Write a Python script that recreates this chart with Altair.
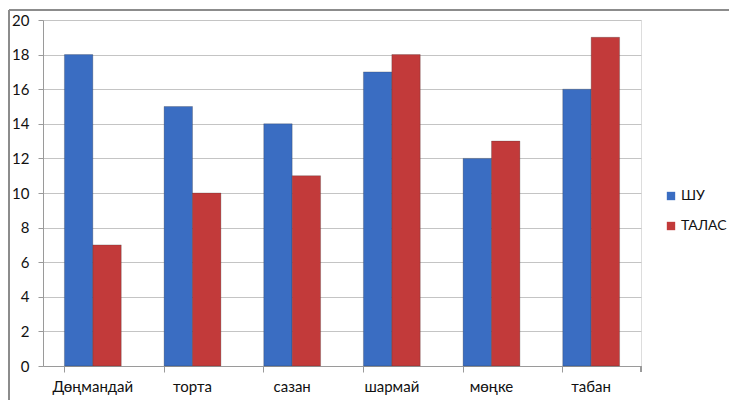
import altair as alt
import pandas as pd

categories = ["Дөңмандай", "торта", "сазан", "шармай", "мөңке", "табан"]
series_names = ["ШУ", "ТАЛАС"]
shu_values = [18, 15, 14, 17, 12, 16]
talas_values = [7, 10, 11, 18, 13, 19]
colors = ["#3A6DC2", "#C23A3A"]

rows = []
for c, a, b in zip(categories, shu_values, talas_values):
    rows.append({"cat": c, "series": series_names[0], "value": a})
    rows.append({"cat": c, "series": series_names[1], "value": b})
df = pd.DataFrame(rows)

FONT = "Lato"

bars = alt.Chart(df).mark_bar(stroke="#2a2a2a", strokeWidth=0.5, strokeOpacity=0.5).encode(
    x=alt.X("cat:N", sort=categories, title=None,
            scale=alt.Scale(paddingInner=0.43, paddingOuter=0.215),
            axis=alt.Axis(labelAngle=0, bandPosition=0, tickSize=6, tickColor="#9a9a9a",
                          domainColor="#9a9a9a", labelPadding=7, labelFontSize=15,
                          labelColor="#111", labelFont=FONT, grid=False)),
    xOffset=alt.XOffset("series:N", sort=series_names),
    y=alt.Y("value:Q", title=None,
            scale=alt.Scale(domain=[0, 20]),
            axis=alt.Axis(values=list(range(0, 21, 2)), tickSize=5, tickColor="#9a9a9a",
                          domainColor="#9a9a9a", gridColor="#c4c4c4", labelPadding=9,
                          labelFontSize=15, labelColor="#111", labelFont=FONT)),
    color=alt.Color("series:N", sort=series_names,
                    scale=alt.Scale(domain=series_names, range=colors),
                    legend=alt.Legend(title=None, orient="none", legendX=621, legendY=169,
                                      symbolType="square", symbolSize=70, rowPadding=16,
                                      labelFontSize=14, labelFont=FONT, labelColor="#111",
                                      symbolStrokeWidth=0, labelOffset=3)),
)

end_tick = alt.Chart(df).mark_rule(color="#9a9a9a", strokeWidth=1).encode(
    x=alt.value(598), y=alt.value(346), y2=alt.value(352)
)

frame_top = alt.Chart(df).mark_rule(color="#8c8c8c", strokeWidth=2).encode(
    x=alt.value(-34), x2=alt.value(720), y=alt.value(-10)
)
frame_left = alt.Chart(df).mark_rule(color="#8c8c8c", strokeWidth=2).encode(
    x=alt.value(-34), y=alt.value(-10), y2=alt.value(420)
)

chart = alt.layer(frame_top, frame_left, bars, end_tick).properties(
    width=598, height=346,
    autosize=alt.AutoSizeParams(type="none"),
    padding={"left": 35, "top": 12, "right": 88, "bottom": 34},
).configure_view(stroke=None).configure(background="white")

chart.save("out.html", embed_options={"renderer": "svg", "actions": False})
